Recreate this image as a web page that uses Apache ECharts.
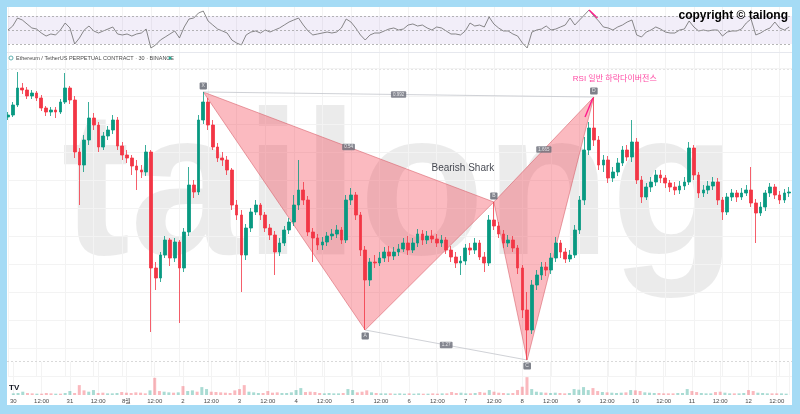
<!DOCTYPE html>
<html>
<head>
<meta charset="utf-8">
<script src="https://cdn.jsdelivr.net/npm/echarts@6/dist/echarts.min.js"></script>
<style>
  html, body { margin: 0; padding: 0; background: #a5dbf5; }
  #chart { position: absolute; left: 7px; top: 7px; width: 785px; height: 398px; background: #fff; }
</style>
</head>
<body>
<div id="chart"></div>
<script>
// 30분봉을 2시간 단위로 묶어서 읽은 값 (7/30 00:00 부터)
const dayLabels = ['30', '31', '8월', '2', '3', '4', '5', '6', '7', '8', '9', '10', '11', '12']
const stepHours = 2

const opens = [
  1870.75, 1871.25, 1873.75, 1878, 1877.5, 1876, 1876.75, 1875.5, 1873, 1872,
  1872.5, 1872, 1874.5, 1878, 1875, 1862, 1858.75, 1865, 1870.5, 1868.75,
  1863.25, 1866, 1867.5, 1870, 1863.5, 1861.25, 1860.5, 1858.5, 1857.5, 1857,
  1862, 1833, 1830.5, 1836.25, 1840, 1835.5, 1839.5, 1833, 1842, 1853.75,
  1852, 1870, 1874.5, 1868.75, 1863.25, 1860.5, 1860, 1857.5, 1848.75, 1846.25,
  1836.25, 1843, 1847, 1848.75, 1846.25, 1843, 1841.25, 1837, 1839.25, 1842.5,
  1844.5, 1848.75, 1852.5, 1850, 1842, 1840.5, 1838.75, 1839.5, 1841, 1841.5,
  1842.5, 1840, 1850, 1851.25, 1846.25, 1837.5, 1830, 1834.5, 1834.25, 1835.5,
  1837, 1836, 1837, 1837.75, 1839.25, 1837.5, 1839.25, 1841.5, 1840, 1841,
  1840.25, 1839.25, 1840, 1837.5, 1835.75, 1834.25, 1834.75, 1838, 1837.5, 1839.25,
  1835.75, 1834.25, 1845, 1843.5, 1841.5, 1839.25, 1840, 1838, 1833, 1822.5,
  1817.5, 1828.75, 1831.25, 1833.25, 1832.5, 1835.5, 1839.25, 1837, 1835.25, 1836.25,
  1842.5, 1850, 1862.5, 1868, 1865, 1858.75, 1860, 1855.5, 1857, 1859.25,
  1862.5, 1860.75, 1864.5, 1855, 1850.75, 1853.25, 1854.5, 1856.25, 1855.5, 1854.25,
  1853.25, 1852.5, 1853.5, 1854.5, 1863, 1856.25, 1851.75, 1852.5, 1853.5, 1854.5,
  1850, 1847, 1850.75, 1851.75, 1850.75, 1851.75, 1852.5, 1849.25, 1846.75, 1848.25,
  1851.75, 1853.25, 1851.25, 1850, 1851.75
]
const closes = [
  1871.25, 1873.75, 1878, 1877.5, 1876, 1876.75, 1875.5, 1873, 1872, 1872.5,
  1872, 1874.5, 1878, 1875, 1862, 1858.75, 1865, 1870.5, 1868.75, 1863.25,
  1866, 1867.5, 1870, 1863.5, 1861.25, 1860.5, 1858.5, 1857.5, 1857, 1862,
  1833, 1830.5, 1836.25, 1840, 1835.5, 1839.5, 1833, 1842, 1853.75, 1852,
  1870, 1874.5, 1868.75, 1863.25, 1860.5, 1860, 1857.5, 1848.75, 1846.25, 1836.25,
  1843, 1847, 1848.75, 1846.25, 1843, 1841.25, 1837, 1839.25, 1842.5, 1844.5,
  1848.75, 1852.5, 1850, 1842, 1840.5, 1838.75, 1839.5, 1841, 1841.5, 1842.5,
  1840, 1850, 1851.25, 1846.25, 1837.5, 1830, 1834.5, 1834.25, 1835.5, 1837,
  1836, 1837, 1837.75, 1839.25, 1837.5, 1839.25, 1841.5, 1840, 1841, 1840.25,
  1839.25, 1840, 1837.5, 1835.75, 1834.25, 1834.75, 1838, 1837.5, 1839.25, 1835.75,
  1834.25, 1845, 1843.5, 1841.5, 1839.25, 1840, 1838, 1833, 1822.5, 1817.5,
  1828.75, 1831.25, 1833.25, 1832.5, 1835.5, 1839.25, 1837, 1835.25, 1836.25, 1842.5,
  1850, 1862.5, 1868, 1865, 1858.75, 1860, 1855.5, 1857, 1859.25, 1862.5,
  1860.75, 1864.5, 1855, 1850.75, 1853.25, 1854.5, 1856.25, 1855.5, 1854.25, 1853.25,
  1852.5, 1853.5, 1854.5, 1863, 1856.25, 1851.75, 1852.5, 1853.5, 1854.5, 1850,
  1847, 1850.75, 1851.75, 1850.75, 1851.75, 1852.5, 1849.25, 1846.75, 1848.25, 1851.75,
  1853.25, 1851.25, 1850, 1851.75, 1852
]
const highs = [
  1872, 1874.5, 1882, 1879.25, 1878.25, 1877.5, 1877.25, 1876.25, 1873.5, 1873.25,
  1873.25, 1875.25, 1881.75, 1878.5, 1876, 1863, 1866.25, 1874.5, 1871.75, 1869.5,
  1867, 1868.5, 1871.25, 1870.75, 1864.5, 1862.5, 1861.25, 1860, 1858.75, 1863.75,
  1862.5, 1834.5, 1837, 1841, 1840.5, 1840.5, 1840, 1843, 1858.25, 1855,
  1871.25, 1877, 1875.5, 1870, 1864.25, 1862, 1861, 1858, 1850, 1847.5,
  1844, 1848, 1850, 1849.25, 1847, 1844, 1842.25, 1840.5, 1843.5, 1845.5,
  1851.25, 1860, 1854.5, 1851, 1843, 1841.5, 1840.75, 1842, 1842.75, 1843.75,
  1843.25, 1851.25, 1853, 1852, 1847, 1838.5, 1835.5, 1836.25, 1837, 1838.25,
  1838.5, 1838.25, 1839, 1840.5, 1841, 1840.5, 1842.75, 1842.5, 1842.25, 1842.5,
  1841.5, 1841.25, 1840.75, 1838.5, 1837, 1836, 1839, 1839.25, 1840.5, 1840,
  1837, 1846.25, 1849.5, 1844.5, 1842.5, 1841.25, 1841, 1838.75, 1833.75, 1827,
  1830, 1832.5, 1834.5, 1834.5, 1836.75, 1840.75, 1840, 1838, 1837.5, 1843.75,
  1851, 1865.75, 1869.5, 1875.75, 1866, 1861.25, 1861, 1858.25, 1860.5, 1863.5,
  1863.75, 1870, 1865.5, 1856, 1854.25, 1855.75, 1857.5, 1857.5, 1856.25, 1855,
  1854.5, 1854.75, 1855.75, 1864.5, 1863.75, 1857, 1853.75, 1854.75, 1855.75, 1855.5,
  1850.75, 1851.75, 1852.75, 1852.5, 1853, 1853.75, 1858.25, 1850.25, 1849.5, 1852.5,
  1854.25, 1854, 1852.25, 1852.75, 1853.25
]
const lows = [
  1870, 1870.75, 1873.25, 1876.5, 1875.25, 1875.25, 1874.75, 1872.25, 1871, 1871,
  1870.5, 1871.5, 1874, 1874, 1860.5, 1848.75, 1857, 1863.75, 1867.5, 1862,
  1862.5, 1865, 1866.5, 1862.5, 1860, 1859.25, 1856.25, 1852.5, 1855.5, 1856,
  1817, 1827.5, 1829.5, 1835.5, 1833.5, 1834.5, 1819.25, 1832, 1841, 1850.5,
  1851.25, 1869, 1867.5, 1862.5, 1859.5, 1858.5, 1856.25, 1847.5, 1845, 1827,
  1835, 1842, 1846.25, 1845, 1842, 1840, 1831.25, 1836, 1838.5, 1841.5,
  1843.5, 1847.5, 1848.75, 1841, 1834.5, 1837.5, 1837.5, 1838.5, 1840, 1840.5,
  1839, 1839.25, 1848.75, 1845, 1836, 1817.5, 1828.5, 1833, 1833.5, 1834.5,
  1834.5, 1835, 1836, 1837, 1836.25, 1836.75, 1838.25, 1838.75, 1839, 1839.25,
  1838.25, 1838.25, 1836.5, 1834.5, 1833, 1831.25, 1833.75, 1836.25, 1836.5, 1835,
  1832, 1833.5, 1842.5, 1840.5, 1838, 1838.25, 1837, 1831.5, 1820.5, 1810,
  1816.5, 1827.5, 1830, 1831, 1831.5, 1834.5, 1835.5, 1834.25, 1834.5, 1835.5,
  1841.5, 1848.75, 1861.25, 1863.5, 1857.5, 1857, 1854.25, 1854.5, 1856, 1858.5,
  1859.75, 1859.5, 1854, 1849.25, 1850, 1852, 1853.5, 1854.25, 1853, 1852,
  1851.25, 1851.5, 1852.5, 1853.75, 1855, 1850.5, 1850.75, 1851.5, 1852.5, 1848.75,
  1845, 1846.25, 1849.75, 1849.5, 1850, 1851, 1848.25, 1839.25, 1846, 1847.25,
  1850.75, 1850.25, 1849, 1849.25, 1850.75
]
const volumes = [
  5, 6, 10, 6, 5, 4, 4, 6, 5, 4,
  4, 6, 12, 6, 30, 14, 10, 15, 6, 7,
  5, 5, 6, 9, 7, 6, 8, 7, 5, 14,
  52, 12, 10, 8, 7, 8, 27, 12, 14, 10,
  24, 18, 10, 9, 8, 7, 6, 14, 18, 30,
  10, 8, 6, 6, 12, 7, 8, 6, 6, 8,
  15, 21, 9, 10, 9, 6, 5, 6, 5, 5,
  6, 18, 15, 8, 10, 14, 8, 6, 5, 5,
  5, 4, 5, 4, 5, 4, 5, 4, 4, 5,
  4, 5, 5, 9, 6, 7, 5, 5, 6, 9,
  7, 15, 10, 7, 6, 5, 6, 15, 25, 54,
  18, 10, 8, 7, 6, 7, 6, 5, 6, 18,
  16, 24, 15, 21, 12, 9, 8, 7, 6, 7,
  8, 15, 14, 12, 8, 7, 6, 6, 5, 5,
  5, 6, 6, 18, 12, 9, 6, 5, 5, 9,
  10, 7, 5, 5, 5, 6, 15, 12, 7, 6,
  5, 5, 5, 5, 4
]
const rsi = [
  50, 55.7, 67.1, 64.3, 58.6, 52.9, 51.4, 45.7, 41.4, 44.3,
  42.9, 50, 60, 52.9, 30, 38.6, 50, 55.7, 48.6, 45.7,
  48.6, 51.4, 54.3, 44.3, 42.9, 44.3, 41.4, 44.3, 45.7, 51.4,
  24.3, 28.6, 35.7, 40, 44.3, 48.6, 38.6, 54.3, 65.7, 67.1,
  74.3, 77.1, 62.9, 57.1, 51.4, 48.6, 45.7, 35.7, 31.4, 28.6,
  42.9, 47.1, 48.6, 45.7, 50, 47.1, 50, 52.9, 57.1, 61.4,
  64.3, 67.1, 57.1, 48.6, 42.9, 44.3, 45.7, 47.1, 45.7, 47.1,
  52.9, 65.7, 61.4, 52.9, 42.9, 35.7, 42.9, 45.7, 45.7, 48.6,
  51.4, 52.9, 50, 51.4, 57.1, 58.6, 55.7, 57.1, 52.9, 50,
  54.3, 52.9, 48.6, 44.3, 44.3, 42.9, 48.6, 60, 55.7, 57.1,
  54.3, 68.6, 58.6, 52.9, 48.6, 48.6, 44.3, 41.4, 31.4, 24.3,
  47.1, 50, 51.4, 55.7, 50, 51.4, 54.3, 57.1, 67.1, 57.1,
  64.3, 71.4, 78.6, 70, 62.9, 54.3, 52.9, 50, 54.3, 57.1,
  61.4, 64.3, 42.9, 40, 47.1, 50, 54.3, 51.4, 47.1, 45.7,
  45.7, 50, 51.4, 62.9, 54.3, 48.6, 50, 48.6, 50, 50,
  41.4, 47.1, 48.6, 48.6, 51.4, 60, 65.7, 42.9, 45.7, 50,
  52.9, 61.4, 52.9, 50, 54.3
]
const rsiLevels = [70, 50, 30]

// 하모닉 패턴 (Bearish Shark)
const patternNames = ['X', 'A', 'B', 'C', 'D']
const patternHours = [82, 150, 204, 218, 246]
const patternPrices = [1877, 1817.5, 1849.5, 1810, 1875.75]
const ratioNames = ['0.992', '0.54', '1.27', '1.665']
const ratioLegs = [[0, 4], [0, 2], [1, 3], [2, 4]]

// 다이버전스 표시선
const divHours = [242.3, 245.6]
const divPrices = [1870.75, 1875.5]
const divRsiHours = [244, 247.5]
const divRsiValues = [78.6, 67]

const notes = [
  { text: 'Bearish Shark', hour: 191, price: 1858, color: '#131722', size: 10 },
  { text: 'RSI 일반 하락다이버전스', hour: 254.8, price: 1880.25, color: '#ff1a8c', size: 8 }
]

const chart = echarts.init(document.getElementById('chart'))

const hours = opens.map((_, i) => i * stepHours)
const candles = hours.map((h, i) => [h, opens[i], closes[i], lows[i], highs[i]])
const volumeBars = hours.map((h, i) => ({
  value: [h, volumes[i]],
  itemStyle: { color: closes[i] >= opens[i] ? 'rgba(8,153,129,0.35)' : 'rgba(242,54,69,0.35)' }
}))
const rsiLine = hours.map((h, i) => [h, rsi[i]])
const pt = k => [patternHours[k], patternPrices[k]]
const triangles = [[0, 1, 2], [2, 3, 4]].map(t => t.flatMap(pt))

const font = '"Liberation Sans", "Noto Sans CJK KR", sans-serif'
const gridLine = { show: true, lineStyle: { color: '#f3f3f3', width: 1 } }

const xBase = {
  type: 'value',
  min: 0,
  max: 329.2,
  interval: 12,
  axisLine: { show: false },
  axisTick: { show: false },
  axisLabel: { show: false },
  splitLine: gridLine
}

const option = {
  animation: false,
  grid: [
    { left: 1, right: 0, top: 0, height: 45 },
    { left: 1, right: 0, top: 45, height: 324 },
    { left: 1, right: 0, top: 355, height: 33 }
  ],
  xAxis: [
    Object.assign({ gridIndex: 0 }, xBase),
    Object.assign({ gridIndex: 1 }, xBase),
    Object.assign({}, xBase, {
      gridIndex: 2,
      axisLabel: {
        show: true,
        margin: 3,
        fontSize: 6,
        color: '#4a4a4a',
        fontFamily: font,
        formatter: function (v) {
          if (v % 24 === 0) return dayLabels[v / 24]
          if (v % 12 === 0) return '12:00'
          return ''
        }
      }
    })
  ],
  yAxis: [
    { gridIndex: 0, type: 'value', min: 18.57, max: 82.86, show: false },
    {
      gridIndex: 1, type: 'value', min: 1806, max: 1887, interval: 7,
      axisLine: { show: false }, axisTick: { show: false }, axisLabel: { show: false },
      splitLine: gridLine
    },
    { gridIndex: 2, type: 'value', min: 0, max: 100, show: false }
  ],
  graphic: [
    {
      // 워터마크
      type: 'text', z: 0, silent: true, x: 392, y: 190,
      style: { text: 'tailong', font: 'bold 206px ' + font, fill: 'rgba(0,0,0,0.08)', align: 'center', verticalAlign: 'middle' }
    },
    { type: 'line', z: 5, silent: true, shape: { x1: 0, y1: 45.5, x2: 785, y2: 45.5 }, style: { stroke: '#e6e8ee', lineWidth: 1 } },
    { type: 'line', z: 5, silent: true, shape: { x1: 0, y1: 62.5, x2: 785, y2: 62.5 }, style: { stroke: '#e4e4e4', lineWidth: 1, lineDash: [2, 2] } },
    { type: 'line', z: 5, silent: true, shape: { x1: 0, y1: 354.5, x2: 785, y2: 354.5 }, style: { stroke: '#d9d9d9', lineWidth: 1, lineDash: [2, 2] } },
    { type: 'circle', z: 5, silent: true, shape: { cx: 4, cy: 51, r: 2 }, style: { fill: 'none', stroke: '#3b9ea0', lineWidth: 0.8 } },
    {
      type: 'text', z: 5, silent: true, x: 9, y: 51,
      style: { text: 'Ethereum / TetherUS PERPETUAL CONTRACT · 30 · BINANCE', font: '5.5px ' + font, fill: '#4a4a4a', verticalAlign: 'middle' }
    },
    { type: 'circle', z: 5, silent: true, shape: { cx: 163, cy: 51, r: 1.5 }, style: { fill: '#22ab94' } },
    {
      type: 'text', z: 10, silent: true, x: 781, y: 9,
      style: { text: 'copyright © tailong', font: 'bold 12px ' + font, fill: '#000', align: 'right', verticalAlign: 'middle' }
    },
    {
      type: 'text', z: 10, silent: true, x: 2, y: 381,
      style: { text: 'TV', font: 'bold 8px ' + font, fill: '#131722', verticalAlign: 'middle' }
    }
  ],
  series: [
    {
      name: 'RSI',
      type: 'line',
      xAxisIndex: 0,
      yAxisIndex: 0,
      data: rsiLine,
      symbol: 'none',
      lineStyle: { color: '#6b6b6b', width: 0.8 },
      markArea: {
        silent: true,
        itemStyle: { color: 'rgba(126,87,194,0.1)' },
        data: [[{ yAxis: rsiLevels[0] }, { yAxis: rsiLevels[2] }]]
      },
      markLine: {
        silent: true,
        symbol: 'none',
        label: { show: false },
        lineStyle: { color: '#a3a3a3', type: [2, 2], width: 0.8 },
        data: rsiLevels.map(v => ({ yAxis: v }))
      }
    },
    {
      name: 'RSI 다이버전스',
      type: 'line',
      xAxisIndex: 0,
      yAxisIndex: 0,
      data: divRsiHours.map((h, i) => [h, divRsiValues[i]]),
      symbol: 'none',
      lineStyle: { color: '#ff1a8c', width: 1.4 }
    },
    {
      name: '패턴',
      type: 'custom',
      xAxisIndex: 1,
      yAxisIndex: 1,
      z: 1,
      silent: true,
      data: triangles,
      renderItem: function (params, api) {
        const points = [0, 1, 2].map(k => api.coord([api.value(k * 2), api.value(k * 2 + 1)]))
        return {
          type: 'polygon',
          shape: { points: points },
          style: { fill: 'rgba(242,54,69,0.34)', stroke: 'rgba(214,90,100,0.55)', lineWidth: 1 }
        }
      }
    },
    {
      name: 'XD',
      type: 'line',
      xAxisIndex: 1,
      yAxisIndex: 1,
      z: 1,
      data: [pt(0), pt(4)],
      symbol: 'none',
      lineStyle: { color: '#c3c5cc', width: 0.8 }
    },
    {
      name: 'AC',
      type: 'line',
      xAxisIndex: 1,
      yAxisIndex: 1,
      z: 1,
      data: [pt(1), pt(3)],
      symbol: 'none',
      lineStyle: { color: '#c3c5cc', width: 0.8 }
    },
    {
      name: 'ETHUSDT',
      type: 'candlestick',
      xAxisIndex: 1,
      yAxisIndex: 1,
      z: 3,
      clip: false,
      barWidth: 3.2,
      encode: { x: 0, y: [1, 2, 3, 4] },
      data: candles,
      itemStyle: {
        color: '#089981',
        color0: '#f23645',
        borderColor: '#089981',
        borderColor0: '#f23645',
        borderWidth: 0.8
      }
    },
    {
      name: '가격 다이버전스',
      type: 'line',
      xAxisIndex: 1,
      yAxisIndex: 1,
      z: 4,
      data: divHours.map((h, i) => [h, divPrices[i]]),
      symbol: 'none',
      lineStyle: { color: '#ff1a8c', width: 1.4 }
    },
    {
      name: '포인트',
      type: 'scatter',
      xAxisIndex: 1,
      yAxisIndex: 1,
      z: 6,
      symbolSize: 1,
      itemStyle: { color: 'transparent' },
      data: patternNames.map((n, k) => ({
        name: n,
        value: pt(k),
        label: { position: k % 2 === 0 ? 'top' : 'bottom' }
      })),
      label: {
        show: true,
        formatter: '{b}',
        distance: 2,
        fontSize: 5,
        fontFamily: font,
        color: '#fff',
        backgroundColor: '#5d606b',
        padding: [1, 2, 1, 2],
        borderRadius: 1
      }
    },
    {
      name: '비율',
      type: 'scatter',
      xAxisIndex: 1,
      yAxisIndex: 1,
      z: 6,
      symbolSize: 1,
      itemStyle: { color: 'transparent' },
      data: ratioNames.map((n, k) => {
        const a = ratioLegs[k][0]
        const b = ratioLegs[k][1]
        return {
          name: n,
          value: [(patternHours[a] + patternHours[b]) / 2, (patternPrices[a] + patternPrices[b]) / 2]
        }
      }),
      label: {
        show: true,
        position: 'inside',
        formatter: '{b}',
        fontSize: 4.5,
        fontFamily: font,
        color: '#fff',
        backgroundColor: '#6a6d78',
        padding: [1, 2, 1, 2],
        borderRadius: 1
      }
    },
    {
      name: '메모',
      type: 'scatter',
      xAxisIndex: 1,
      yAxisIndex: 1,
      z: 6,
      symbolSize: 1,
      itemStyle: { color: 'transparent' },
      data: notes.map(n => ({
        name: n.text,
        value: [n.hour, n.price],
        label: { color: n.color, fontSize: n.size }
      })),
      label: { show: true, position: 'inside', formatter: '{b}', fontFamily: font }
    },
    {
      name: 'Volume',
      type: 'bar',
      xAxisIndex: 2,
      yAxisIndex: 2,
      barWidth: 3,
      data: volumeBars
    }
  ]
}

chart.setOption(option)
window.addEventListener('resize', () => {
  chart.resize()
})
</script>
</body>
</html>
